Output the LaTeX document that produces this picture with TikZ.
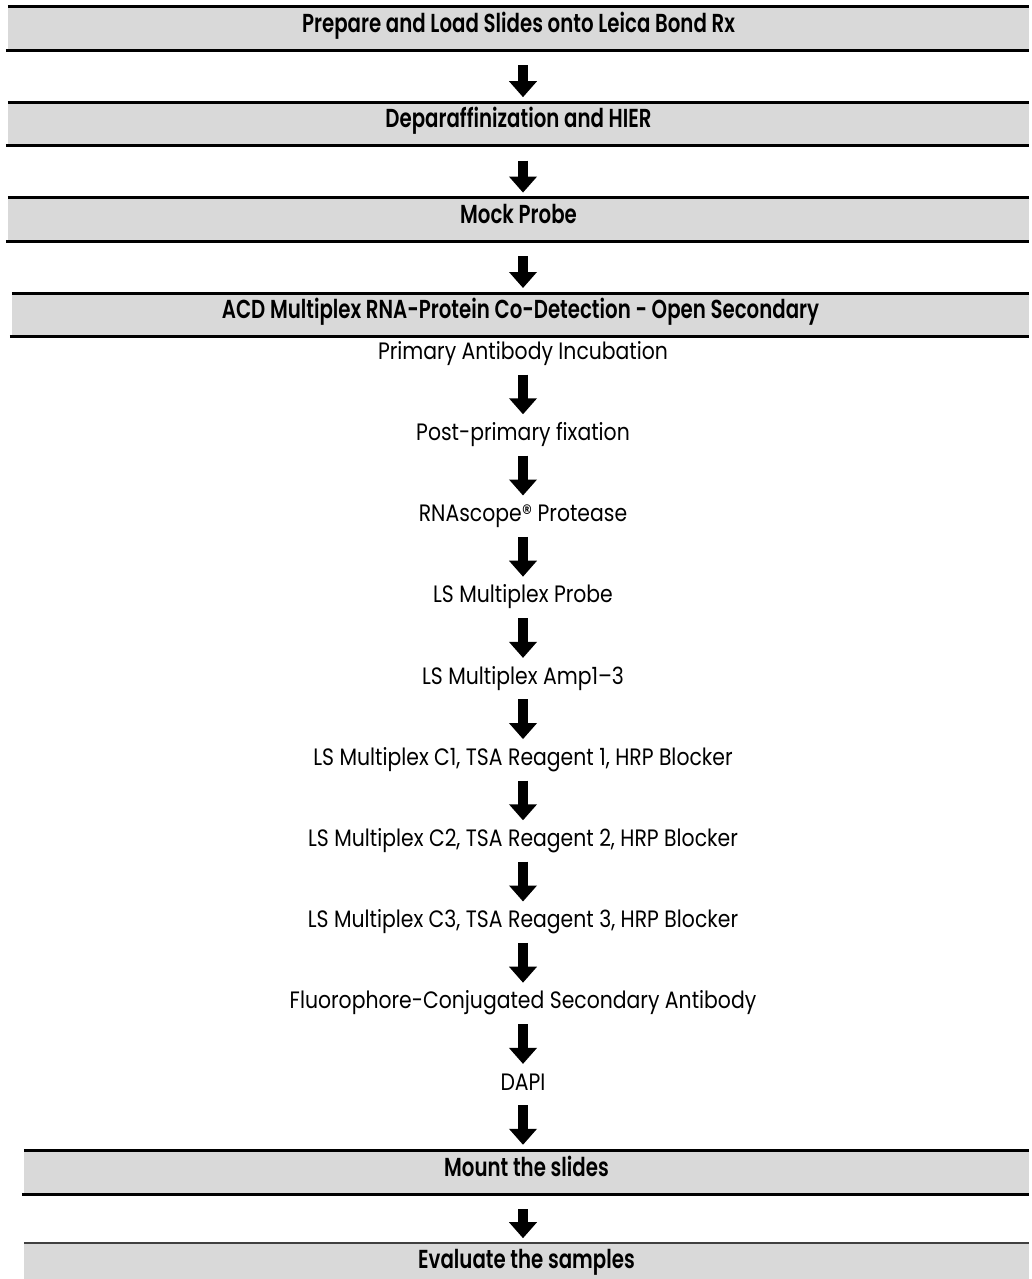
\documentclass[tikz,border=0pt]{standalone}
\usepackage{fontspec}
\setmainfont{Poppins}
\newfontfamily\stepfont{Poppins}[FakeStretch=0.86]
\newfontfamily\bandfont{Poppins SemiBold}[FakeStretch=0.76]
\usetikzlibrary{positioning, arrows.meta}
\definecolor{bandgray}{HTML}{D9D9D9}
\definecolor{lastgray}{HTML}{404040}

\begin{document}
\begin{tikzpicture}[x=1pt, y=-1pt,
  band/.style={fill=bandgray, minimum height=43pt, inner sep=0, text height=18pt, text depth=10pt,
    font=\bandfont\fontsize{26}{30}\selectfont},
  stepbox/.style={inner sep=0, text height=17pt, text depth=5pt, font=\stepfont\fontsize{23.7}{28}\selectfont},
  bandline/.style={line width=3pt},
  blockarrow/.style={line width=9.5pt, -{Triangle[width=27pt, length=16pt]}}]
  \useasboundingbox (0,0) rectangle (1031,1279);
  \coordinate (axis) at (523,0);

  % grey bands
  \node [band, minimum width=1021pt] (prep) at (518.5,28.5) {Prepare and Load Slides onto Leica Bond Rx};
  \node [band, minimum width=1021pt, below=52pt of prep] (dewax) {Deparaffinization and HIER};
  \node [band, minimum width=1021pt, below=52pt of dewax] (mock) {Mock Probe};
  \node [band, minimum width=1017pt, below=52pt of mock.south east, anchor=north east] (acd) {ACD Multiplex RNA-Protein Co-Detection - Open Secondary};

  % steps of the co-detection run
  \node [stepbox] (primary) at (523,353.3) {Primary Antibody Incubation};
  \node [stepbox, below=58.8pt of primary] (postfix) {Post-primary fixation};
  \node [stepbox, below=58.8pt of postfix] (protease) {RNAscope® Protease};
  \node [stepbox, below=58.8pt of protease] (probe) {LS Multiplex Probe};
  \node [stepbox, below=58.8pt of probe] (amp) {LS Multiplex Amp1–3};
  \node [stepbox, below=58.8pt of amp] (cone) {LS Multiplex C1, TSA Reagent 1, HRP Blocker};
  \node [stepbox, below=58.8pt of cone] (ctwo) {LS Multiplex C2, TSA Reagent 2, HRP Blocker};
  \node [stepbox, below=58.8pt of ctwo] (cthree) {LS Multiplex C3, TSA Reagent 3, HRP Blocker};
  \node [stepbox, below=58.8pt of cthree] (second) {Fluorophore-Conjugated Secondary Antibody};
  \node [stepbox, below=58.8pt of second] (dapi) {DAPI};

  \node [band, minimum width=1005pt, below=55.5pt of dapi, xshift=3.5pt] (mount) {Mount the slides};
  \node [band, minimum width=1005pt, below=49pt of mount] (eval) {Evaluate the samples};

  \foreach \b in {prep, dewax, mock, acd, mount}
    \draw [bandline] (\b.north west) -- (\b.north east) ([xshift=-2pt]\b.south west) -- (\b.south east);
  \draw [line width=2pt, lastgray] (eval.north west) -- (eval.north east);

  \path [blockarrow, shorten <=15pt, shorten >=5pt] (prep.south -| axis) edge (dewax.north -| axis)
  (dewax.south -| axis) edge (mock.north -| axis)
  (mock.south -| axis) edge (acd.north -| axis)
  (mount.south -| axis) edge (eval.north -| axis);

  \path [blockarrow, shorten <=10pt, shorten >=9pt] (primary) edge (postfix)
  (postfix) edge (protease)
  (protease) edge (probe)
  (probe) edge (amp)
  (amp) edge (cone)
  (cone) edge (ctwo)
  (ctwo) edge (cthree)
  (cthree) edge (second)
  (second) edge (dapi);
  \path [blockarrow, shorten <=10pt, shorten >=6pt] (dapi) edge (mount.north -| axis);
\end{tikzpicture}
\end{document}
